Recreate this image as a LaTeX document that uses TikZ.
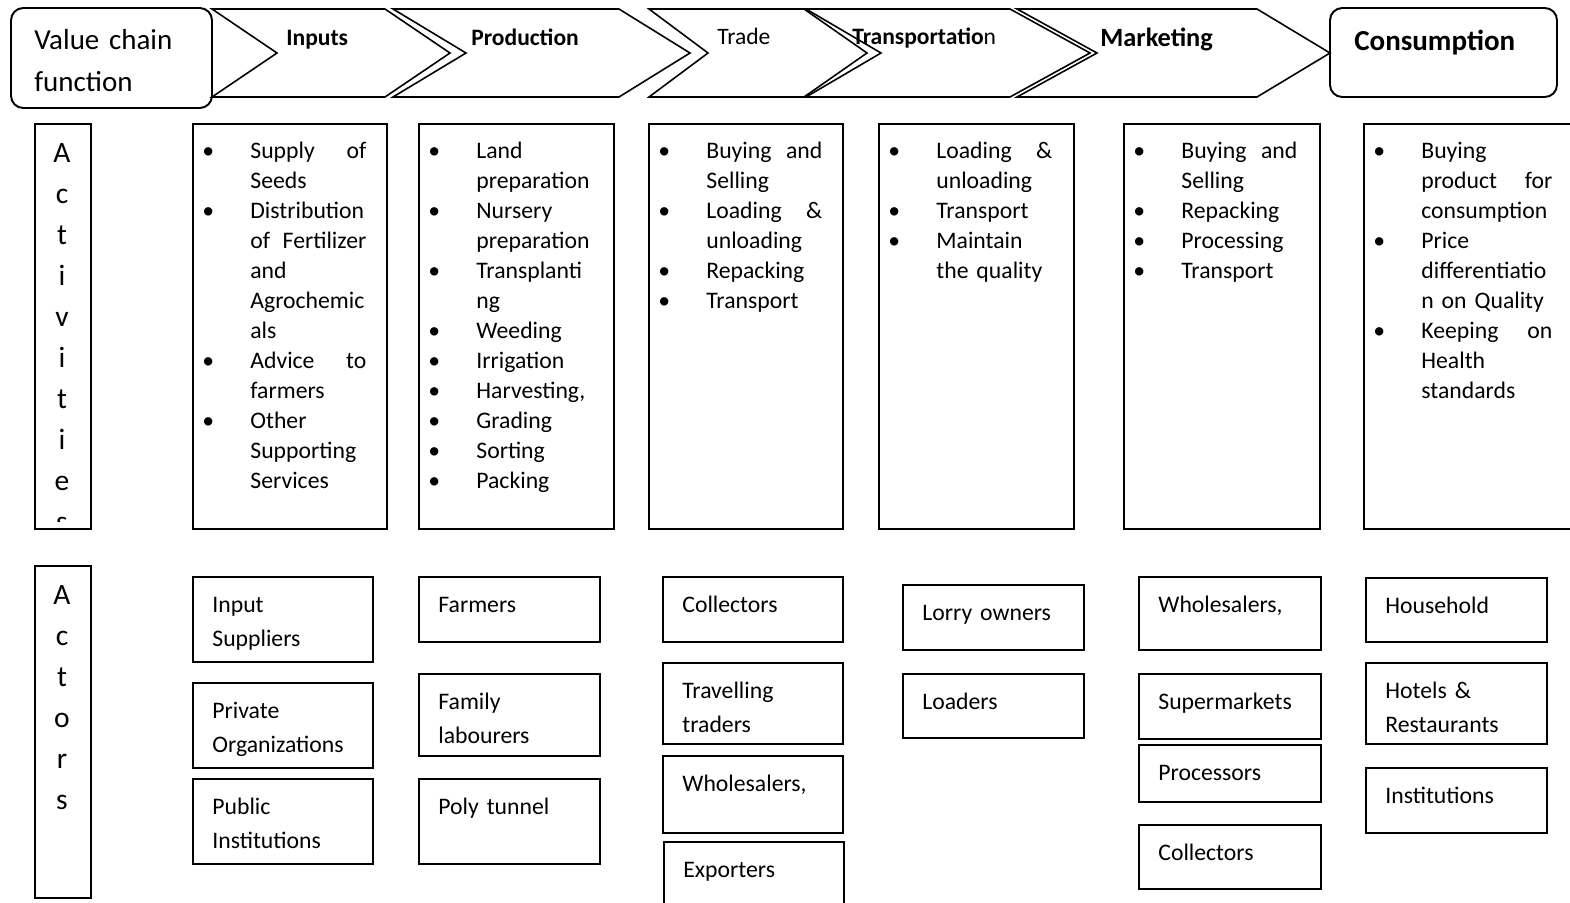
\documentclass[tikz,border=0pt]{standalone}
\usepackage{fontspec}
\setmainfont{Carlito}
\usetikzlibrary{fit}
\setlength{\parindent}{0pt}

% bullet and hanging indent for the activity lists
\newcommand{\bul}{\makebox[0.96cm][l]{\textbullet}}
\newcommand{\ind}{\hspace*{0.96cm}}

\tikzset{
	boxline/.style={draw, line width=1.1pt, inner sep=0pt},
	roundbox/.style={boxline, rounded corners=7pt},
	chev/.style={line width=0.9pt, line join=miter},
	head/.style={anchor=base west, inner sep=0pt, font=\fontsize{13.4}{16}\selectfont\bfseries},
	bighead/.style={head, font=\fontsize{16.5}{23.9}\selectfont\bfseries},
	bigtext/.style={anchor=north west, inner sep=0pt, text width=3.6cm, align=left, font=\fontsize{16.5}{23.9}\selectfont, execute at begin node=\rule{0pt}{16.73pt}},
	acttext/.style={anchor=north west, inner sep=0pt, text width=3.28cm, align=left, font=\fontsize{13.5}{17.07}\selectfont, execute at begin node=\rule{0pt}{11.95pt}},
	atext/.style={anchor=north west, inner sep=0pt, text width=3cm, align=left, font=\fontsize{13.5}{19.3}\selectfont, execute at begin node=\rule{0pt}{13.5pt}},
	vlet/.style={anchor=base, inner sep=0pt, font=\fontsize{16.8}{20}\selectfont},
}

\begin{document}
\begin{tikzpicture}[x=0.02cm, y=-0.02cm]
	\useasboundingbox (0,0) rectangle (1570,903);

	% Value chain functions
	\node[roundbox, fit={(11,8) (212,108)}] (vcf) {};
	\node[bigtext] (vcfT) at ([shift={(24,13)}]vcf.north west) {Value chain\\function};

	\draw[chev] (212,9) -- (385,9) -- (450,53) -- (385,97) -- (212,97) -- (277,53) -- cycle;
	\draw[chev] (393,9) -- (619,9) -- (690,53) -- (619,97) -- (393,97) -- (466,53) -- cycle;
	\draw[chev] (649,9) -- (804,9) -- (867,53) -- (804,97) -- (649,97) -- (708,53) -- cycle;
	\draw[chev] (806,9) -- (1010,9) -- (1090,53) -- (1010,97) -- (806,97) -- (881,53) -- cycle;
	\draw[chev] (1017,9) -- (1257,9) -- (1330,53) -- (1257,97) -- (1017,97) -- (1097,53) -- cycle;
	\node[roundbox, fit={(1330,8) (1557,97)}] (cons) {};

	\node[head] (hIn) at (286,45) {Inputs};
	\node[head] (hProd) at (471,45) {Production};
	\node[head, font=\fontsize{13.4}{16}\selectfont] (hTrade) at (717,44) {Trade};
	\node[head] (hTrans) at (852,44) {Transportatio{\mdseries n}};
	\node[head, font=\fontsize{15}{18}\selectfont\bfseries] (hMkt) at (1100,46) {Marketing};
	\node[bighead] (hCons) at (1354,50) {Consumption};

	% Activities
	\node[boxline, fit={(35,124) (91,529)}] (actL) {};
	\foreach \l [count=\i] in {A,c,t,i,v,i,t,i,e}
		\node[vlet] (actL\i) at (62,{121+41*\i}) {\l};
	\begin{scope}
		\clip (35,124) rectangle (91,521);
		\node[vlet] (actL10) at (62,531) {s};
	\end{scope}

	\node[boxline, fit={(193,124) (387,529)}] (actIn) {};
	\node[acttext] (actInT) at ([shift={(10,14)}]actIn.north west)
		{\bul Supply\hfill of\\\ind Seeds\\\bul Distribution\\\ind of\hfill Fertilizer\\\ind and\\\ind Agrochemic\\\ind als\\\bul Advice\hfill to\\\ind farmers\\\bul Other\\\ind Supporting\\\ind Services};
	\node[boxline, fit={(419,124) (614,529)}] (actProd) {};
	\node[acttext] (actProdT) at ([shift={(10,14)}]actProd.north west)
		{\bul Land\\\ind preparation\\\bul Nursery\\\ind preparation\\\bul Transplanti\\\ind ng\\\bul Weeding\\\bul Irrigation\\\bul Harvesting,\\\bul Grading\\\bul Sorting\\\bul Packing};
	\node[boxline, fit={(649,124) (843,529)}] (actTrade) {};
	\node[acttext] (actTradeT) at ([shift={(10,14)}]actTrade.north west)
		{\bul Buying\hfill and\\\ind Selling\\\bul Loading\hfill \&\\\ind unloading\\\bul Repacking\\\bul Transport};
	\node[boxline, fit={(879,124) (1074,529)}] (actTrans) {};
	\node[acttext] (actTransT) at ([shift={(10,14)}]actTrans.north west)
		{\bul Loading\hfill \&\\\ind unloading\\\bul Transport\\\bul Maintain\\\ind the quality};
	\node[boxline, fit={(1124,124) (1320,529)}] (actMkt) {};
	\node[acttext] (actMktT) at ([shift={(10,14)}]actMkt.north west)
		{\bul Buying\hfill and\\\ind Selling\\\bul Repacking\\\bul Processing\\\bul Transport};
	\node[boxline, fit={(1364,124) (1590,529)}] (actCons) {};
	\node[acttext, text width=3.58cm] (actConsT) at ([shift={(10,14)}]actCons.north west)
		{\bul Buying\\\ind product\hfill for\\\ind consumption\\\bul Price\\\ind differentiatio\\\ind n on Quality\\\bul Keeping\hfill on\\\ind Health\\\ind standards};

	% Actors
	\node[boxline, fit={(35,566) (91,898)}] (actor) {};
	\foreach \l [count=\i] in {A,c,t,o,r,s}
		\node[vlet] (actor\i) at (62,{563+41*\i}) {\l};

	\node[boxline, fit={(193,577) (373,662)}] (inSup) {};
	\node[atext] at ([shift={(20,12)}]inSup.north west) {Input\\Suppliers};
	\node[boxline, fit={(193,683) (373,768)}] (privOrg) {};
	\node[atext] at ([shift={(20,12)}]privOrg.north west) {Private\\Organizations};
	\node[boxline, fit={(193,779) (373,864)}] (pubInst) {};
	\node[atext] at ([shift={(20,12)}]pubInst.north west) {Public\\Institutions};

	\node[boxline, fit={(419,577) (600,642)}] (farmers) {};
	\node[atext] at ([shift={(20,12)}]farmers.north west) {Farmers};
	\node[boxline, fit={(419,674) (600,756)}] (famLab) {};
	\node[atext] at ([shift={(20,12)}]famLab.north west) {Family\\labourers};
	\node[boxline, fit={(419,779) (600,864)}] (polyTun) {};
	\node[atext] at ([shift={(20,12)}]polyTun.north west) {Poly tunnel};

	\node[boxline, fit={(663,577) (843,642)}] (collT) {};
	\node[atext] at ([shift={(20,12)}]collT.north west) {Collectors};
	\node[boxline, fit={(663,663) (843,744)}] (travT) {};
	\node[atext] at ([shift={(20,12)}]travT.north west) {Travelling\\traders};
	\node[boxline, fit={(663,756) (843,833)}] (wholeT) {};
	\node[atext] at ([shift={(20,12)}]wholeT.north west) {Wholesalers,};
	\node[boxline, fit={(664,842) (844,915)}] (exportT) {};
	\node[atext] at ([shift={(20,12)}]exportT.north west) {Exporters};

	\node[boxline, fit={(903,585) (1084,650)}] (lorry) {};
	\node[atext] at ([shift={(20,12)}]lorry.north west) {Lorry owners};
	\node[boxline, fit={(903,674) (1084,738)}] (loaders) {};
	\node[atext] at ([shift={(20,12)}]loaders.north west) {Loaders};

	\node[boxline, fit={(1139,577) (1321,650)}] (wholeM) {};
	\node[atext] at ([shift={(20,12)}]wholeM.north west) {Wholesalers,};
	\node[boxline, fit={(1139,674) (1321,739)}] (superM) {};
	\node[atext] at ([shift={(20,12)}]superM.north west) {Supermarkets};
	\node[boxline, fit={(1139,745) (1321,802)}] (procM) {};
	\node[atext] at ([shift={(20,12)}]procM.north west) {Processors};
	\node[boxline, fit={(1139,825) (1321,889)}] (collM) {};
	\node[atext] at ([shift={(20,12)}]collM.north west) {Collectors};

	\node[boxline, fit={(1366,578) (1547,642)}] (household) {};
	\node[atext] at ([shift={(20,12)}]household.north west) {Household};
	\node[boxline, fit={(1366,663) (1547,744)}] (hotels) {};
	\node[atext] at ([shift={(20,12)}]hotels.north west) {Hotels \&\\Restaurants};
	\node[boxline, fit={(1366,768) (1547,833)}] (instC) {};
	\node[atext] at ([shift={(20,12)}]instC.north west) {Institutions};
\end{tikzpicture}
\end{document}
